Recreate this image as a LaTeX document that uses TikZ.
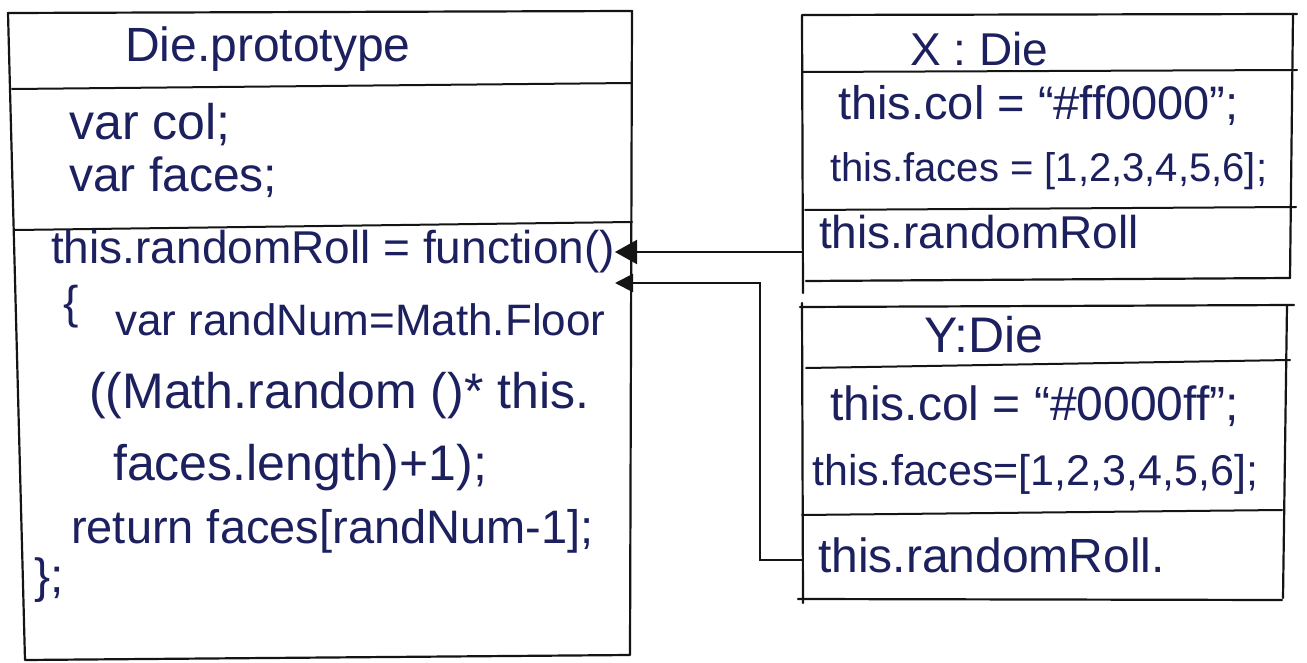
\documentclass[tikz,border=0pt]{standalone}
\usepackage{fontspec}
\setmainfont{Liberation Sans}
\usetikzlibrary{arrows.meta}
\definecolor{ink}{HTML}{1C205E}
\definecolor{pen}{HTML}{141414}
\tikzset{
  frame/.style={draw=pen, line width=2.2pt, line cap=round, line join=round},
  rule/.style={draw=pen, line width=2pt, line cap=round},
  code/.style={anchor=base west, inner sep=0pt, text=ink,
               font=\fontsize{#1}{#1}\selectfont},
  code/.default=46,
  link/.style={draw=pen, line width=2pt},
  bighead/.style={-{Triangle[length=22pt,width=24pt]}},
  smallhead/.style={-{Triangle[length=18pt,width=18pt]}},
}
\begin{document}
\begin{tikzpicture}[x=1pt,y=-1pt]
\useasboundingbox[fill=white] (0,0) rectangle (1307,663);

% ---- Die.prototype box ----
\coordinate (pTL) at (8,13);
\coordinate (pTR) at (632,11);
\coordinate (pBR) at (630,655);
\coordinate (pBL) at (25,660);
\draw[frame] (pTL) -- (pTR) -- (pBR) -- (pBL) -- cycle;
\draw[rule] (12,89) -- (632,83);
\draw[rule] (15,230) -- (632,222);

\node[code=48] (protoName) at (125,62) {Die.prototype};
\node[code=50] (protoCol)   at (69,140) {var col;};
\node[code=48] (protoFaces) at (69,192) {var faces;};
\node[code=46] (protoRoll)  at (51,264) {this.randomRoll = function()};
\node[code=46] (bodyOpen)   at (63,318) {\{};
\node[code=44] (bodyA)      at (115,335) {var randNum=Math.Floor};
\node[code=50] (bodyB)      at (89,408) {((Math.random ()* this.};
\node[code=50] (bodyC)      at (113,480) {faces.length)+1);};
\node[code=47] (bodyD)      at (71,543) {return faces[randNum-1];};
\node[code=48] (bodyClose)  at (34,592) {\};};

% ---- X : Die box ----
\draw[frame] (803,293) -- (802,15) -- (1297,14);
\draw[frame] (1293,14) -- (1290,278);
\draw[frame] (806,281) -- (1290,278);
\draw[rule] (802,72) -- (1297,70);
\draw[rule] (805,210) -- (1296,207);

\node[code=46] (xName)  at (910,66) {X : Die};
\node[code=47] (xCol)   at (838,120) {this.col = ``\#ff0000'';};
\node[code=40] (xFaces) at (830,182) {this.faces = [1,2,3,4,5,6];};
\node[code=46] (xRoll)  at (819,249) {this.randomRoll};

% ---- Y : Die box ----
\draw[frame] (802,303) -- (803,603);
\draw[frame] (800,307) -- (1294,305);
\draw[frame] (1287,305) -- (1283,598);
\draw[rule] (806,368) -- (1290,360);
\draw[rule] (802,515) -- (1282,510);
\draw[frame] (798,599) -- (1282,600);

\node[code=50] (yName)  at (924,352) {Y:Die};
\node[code=48] (yCol)   at (830,420) {this.col = ``\#0000ff'';};
\node[code=43] (yFaces) at (812,485) {this.faces=[1,2,3,4,5,6];};
\node[code=48] (yRoll)  at (818,572) {this.randomRoll.};

% ---- links from the instances to the prototype ----
\coordinate (xPort)  at (802,252);
\coordinate (yPort)  at (802,560);
\coordinate (protoInA) at (615,252);
\coordinate (protoInB) at (615,283);
\draw[link, bighead] (xPort) -- (protoInA);
\draw[link, smallhead] (yPort) -- ++(-42,0) |- (protoInB);
\end{tikzpicture}
\end{document}
